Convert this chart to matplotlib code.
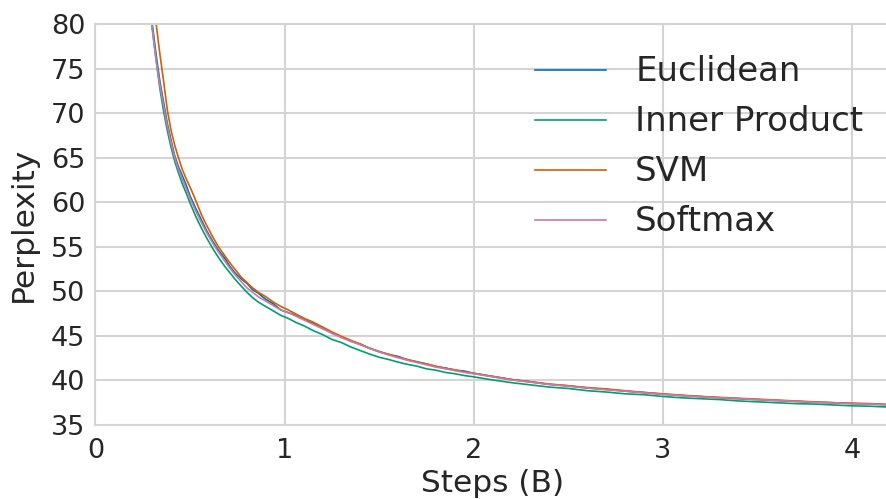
import matplotlib
matplotlib.use("Agg")
import matplotlib.pyplot as plt

steps = [0.28, 0.30, 0.32, 0.34, 0.36, 0.38, 0.40, 0.42, 0.44, 0.46, 0.48, 0.50,
         0.53, 0.56, 0.59, 0.62, 0.65, 0.68, 0.71, 0.74, 0.77, 0.80,
         0.83, 0.86, 0.90, 0.94, 0.98, 1.02, 1.06, 1.10,
         1.15, 1.20, 1.25, 1.30, 1.35, 1.40, 1.45, 1.50, 1.55, 1.60,
         1.65, 1.70, 1.75, 1.80, 1.85, 1.90, 1.95, 2.00,
         2.10, 2.20, 2.30, 2.40, 2.50, 2.60, 2.70, 2.80, 2.90, 3.00,
         3.10, 3.20, 3.30, 3.40, 3.50, 3.60, 3.70, 3.80, 3.90, 4.00, 4.10, 4.20]

euclidean = [84.0, 80.0, 76.6, 73.6, 71.2, 68.8, 66.9, 65.1, 63.9, 62.9, 61.9, 60.7,
             59.3, 58.0, 56.7, 55.6, 54.6, 53.8, 52.8, 52.0, 51.4, 50.9,
             50.2, 49.8, 49.1, 48.6, 47.9, 47.6, 47.3, 46.9,
             46.4, 45.9, 45.3, 44.9, 44.4, 44.05, 43.6, 43.25, 42.9, 42.7,
             42.3, 42.1, 41.85, 41.55, 41.4, 41.15, 41.05, 40.8,
             40.45, 40.1, 39.85, 39.55, 39.4, 39.15, 39.0, 38.8, 38.65, 38.45,
             38.3, 38.2, 38.05, 37.95, 37.85, 37.75, 37.65, 37.55, 37.5, 37.4, 37.35, 37.25]

inner_product = [83.5, 79.5, 76.0, 72.8, 70.2, 68.0, 66.1, 64.5, 63.2, 62.0, 61.0, 59.9,
                 58.4, 57.1, 55.9, 54.8, 53.8, 52.9, 52.1, 51.3, 50.6, 49.9,
                 49.3, 48.8, 48.3, 47.8, 47.3, 46.95, 46.5, 46.15,
                 45.6, 45.15, 44.6, 44.25, 43.75, 43.35, 42.95, 42.6, 42.35, 42.05,
                 41.8, 41.6, 41.3, 41.15, 40.9, 40.75, 40.55, 40.4,
                 40.05, 39.75, 39.5, 39.25, 39.1, 38.85, 38.7, 38.5, 38.4, 38.2,
                 38.05, 37.95, 37.85, 37.7, 37.6, 37.5, 37.4, 37.35, 37.25, 37.15, 37.1, 37.0]

svm = [86.5, 83.0, 80.1, 76.7, 73.6, 70.3, 68.0, 66.3, 64.9, 63.6, 62.6, 61.7,
       60.2, 58.6, 57.3, 56.1, 55.0, 54.1, 53.2, 52.4, 51.6, 51.0,
       50.4, 49.9, 49.4, 48.8, 48.3, 47.9, 47.45, 47.0,
       46.55, 46.0, 45.45, 44.95, 44.5, 44.1, 43.6, 43.2, 42.95, 42.6,
       42.35, 42.05, 41.85, 41.6, 41.35, 41.2, 40.95, 40.8,
       40.45, 40.1, 39.85, 39.6, 39.4, 39.2, 39.05, 38.85, 38.65, 38.5,
       38.35, 38.2, 38.1, 38.0, 37.9, 37.8, 37.7, 37.6, 37.5, 37.45, 37.4, 37.3]

softmax = [83.5, 79.5, 76.0, 73.2, 70.8, 68.5, 66.6, 64.9, 63.6, 62.5, 61.5, 60.4,
           59.0, 57.7, 56.5, 55.4, 54.4, 53.5, 52.6, 51.8, 51.1, 50.4,
           49.9, 49.4, 48.9, 48.4, 47.9, 47.6, 47.2, 46.8,
           46.3, 45.8, 45.3, 44.8, 44.4, 44.0, 43.6, 43.2, 42.85, 42.55,
           42.25, 42.0, 41.75, 41.5, 41.3, 41.1, 40.9, 40.75,
           40.4, 40.05, 39.8, 39.55, 39.35, 39.15, 38.95, 38.8, 38.6, 38.45,
           38.3, 38.15, 38.05, 37.95, 37.85, 37.75, 37.65, 37.55, 37.5, 37.4, 37.35, 37.25]

labels = ["Euclidean", "Inner Product", "SVM", "Softmax"]
colors = ["#0072B2", "#009E73", "#D55E00", "#CC79A7"]
xticks = [0, 1, 2, 3, 4]
yticks = [35, 40, 45, 50, 55, 60, 65, 70, 75, 80]

plt.rcParams["font.family"] = ["DejaVu Sans"]
text_color = "#262626"
grid_color = "#d4d4d4"

fig = plt.figure(figsize=(8.87, 4.99), dpi=100)
ax = fig.add_axes([95.5 / 887, 1 - 425 / 499, (890 - 95.5) / 887, (425 - 24) / 499])

for series, lab, col in zip([euclidean, inner_product, svm, softmax], labels, colors):
    ax.plot(steps, series, color=col, linewidth=1.2, label=lab)

ax.set_xlim(0, 4.2)
ax.set_ylim(35, 80)
ax.set_xticks(xticks)
ax.set_yticks(yticks)
ax.grid(True, color=grid_color, linewidth=1.5)
ax.set_axisbelow(True)
for s in ax.spines.values():
    s.set_color(grid_color)
    s.set_linewidth(1.5)
ax.tick_params(length=0, labelsize=19.5, colors=text_color)
ax.tick_params(axis="x", pad=9.5)
ax.tick_params(axis="y", pad=7.5)
ax.set_xlabel("Steps (B)", fontsize=22.5, color=text_color, labelpad=3.5)
ax.set_ylabel("Perplexity", fontsize=22.5, color=text_color, labelpad=9)

leg = ax.legend(loc="upper right", fontsize=24.5, frameon=False,
                handlelength=2.1, handletextpad=0.85, labelspacing=0.5,
                bbox_to_anchor=(1.005, 0.998))
for t in leg.get_texts():
    t.set_color(text_color)

fig.savefig("out.png", dpi=100)
